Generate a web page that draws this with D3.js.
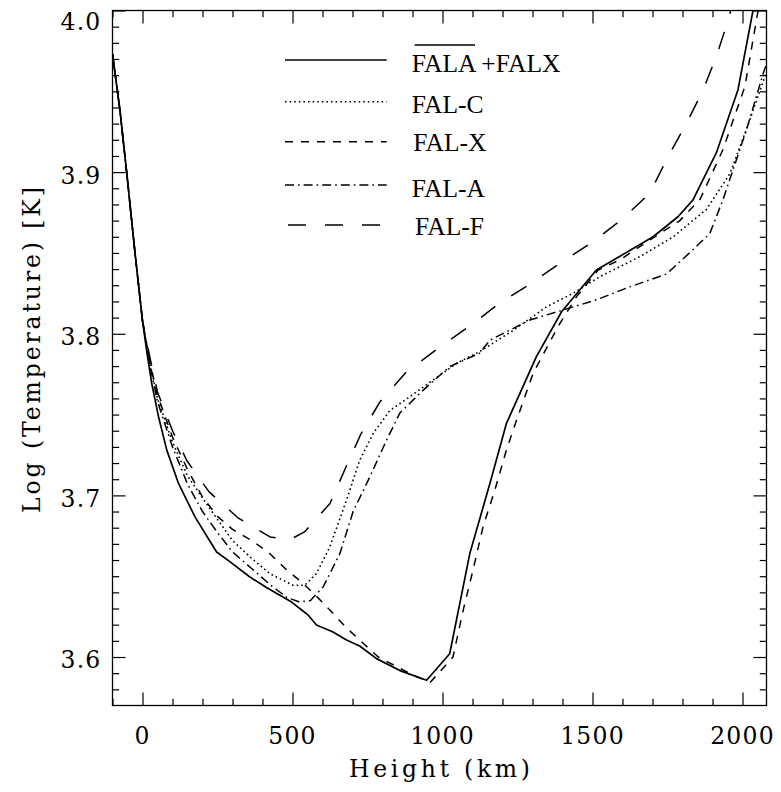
<!DOCTYPE html>
<html>
<head>
<meta charset="utf-8">
<script src="https://cdn.jsdelivr.net/npm/d3@7"></script>
<style>
  html, body { margin: 0; padding: 0; background: #fff; }
  svg { display: block; }
</style>
</head>
<body>
<svg id="chart" width="781" height="792"></svg>
<script>
// ---------------- data (height km, log T) ----------------
const falaFalx = [[-100,3.973],[-75,3.938],[-50,3.895],[-25,3.85],[0,3.808],[15,3.788],[31,3.769],[53,3.749],[81,3.728],[120,3.7074],[175,3.6867],[247,3.665],[291,3.659],[358,3.6495],[413,3.643],[497,3.634],[552,3.626],[580,3.6198],[635,3.6155],[680,3.6105],[724,3.6068],[780,3.599],[858,3.5916],[947,3.5856],[1024,3.602],[1091,3.664],[1158,3.7074],[1213,3.7445],[1313,3.7858],[1397,3.8136],[1513,3.8394],[1702,3.86],[1785,3.8724],[1835,3.8828],[1913,3.912],[1985,3.951],[2035,4.0],[2050,4.012]];
const falC = [[-100,3.973],[-75,3.938],[-50,3.895],[-25,3.85],[0,3.808],[25,3.782],[50,3.76],[100,3.733],[150,3.712],[220,3.693],[300,3.672],[358,3.662],[424,3.6516],[502,3.6444],[541,3.6444],[580,3.6516],[624,3.668],[680,3.697],[724,3.7218],[769,3.7383],[824,3.7524],[891,3.761],[958,3.770],[1047,3.7817],[1124,3.789],[1235,3.802],[1347,3.8167],[1435,3.825],[1524,3.8353],[1658,3.8477],[1769,3.860],[1880,3.877],[1958,3.899],[2020,3.93],[2080,3.962]];
const falX = [[-100,3.973],[-75,3.938],[-50,3.895],[-25,3.85],[0,3.808],[25,3.782],[50,3.762],[100,3.736],[150,3.716],[200,3.699],[250,3.687],[300,3.679],[369,3.6715],[424,3.664],[480,3.654],[530,3.6464],[582,3.6372],[630,3.628],[680,3.618],[730,3.6095],[786,3.6],[841,3.5947],[904,3.5885],[960,3.5845],[1035,3.600],[1069,3.629],[1102,3.654],[1135,3.6805],[1174,3.703],[1213,3.728],[1247,3.7466],[1302,3.7755],[1385,3.8044],[1447,3.823],[1519,3.8394],[1591,3.8457],[1691,3.858],[1791,3.870],[1858,3.883],[1935,3.914],[2008,3.953],[2052,4.0],[2065,4.01]];
const falA = [[-100,3.973],[-75,3.938],[-50,3.895],[-25,3.85],[0,3.808],[25,3.78],[50,3.758],[100,3.73],[150,3.707],[200,3.69],[250,3.677],[300,3.665],[358,3.6557],[424,3.645],[480,3.637],[524,3.634],[560,3.635],[602,3.6433],[658,3.664],[702,3.690],[758,3.7115],[813,3.734],[858,3.751],[935,3.765],[1024,3.7797],[1124,3.788],[1158,3.796],[1291,3.8085],[1402,3.8147],[1513,3.821],[1624,3.829],[1747,3.837],[1835,3.852],[1891,3.862],[1935,3.883],[2013,3.926],[2069,3.961],[2080,3.967]];
const falF = [[-100,3.973],[-75,3.938],[-50,3.895],[-25,3.85],[0,3.808],[25,3.785],[50,3.764],[100,3.74],[148,3.7214],[222,3.7022],[317,3.6863],[425,3.6743],[490,3.6725],[540,3.6774],[625,3.695],[675,3.7162],[728,3.738],[792,3.758],[878,3.776],[1000,3.793],[1100,3.806],[1183,3.818],[1285,3.830],[1391,3.8436],[1502,3.857],[1602,3.8714],[1691,3.887],[1752,3.9096],[1813,3.930],[1869,3.951],[1913,3.9716],[1952,3.994],[1965,4.003]];

const xTickValues = [0, 500, 1000, 1500, 2000];
const yTickValues = [3.6, 3.7, 3.8, 3.9, 4.0];
const legendLabels = ["FALA +FALX", "FAL-C", "FAL-X", "FAL-A", "FAL-F"];
const xTitle = "Height (km)";
const yTitle = "Log (Temperature) [K]";

// ---------------- setup ----------------
const svg = d3.select("#chart");
const L = 112.5, R = 766.5, T = 10.5, B = 705.5;
const x = d3.scaleLinear().domain([-100, 2080]).range([L, R]);
const y = d3.scaleLinear().domain([3.57, 4.0]).range([B, T]);

const series = [
  { data: falaFalx, dash: null, w: 1.7 },
  { data: falC, dash: "1.6,3", w: 1.6 },
  { data: falX, dash: "8,8", w: 1.5 },
  { data: falA, dash: "9,4,1.6,4", w: 1.5 },
  { data: falF, dash: "18,19", w: 1.5 }
];

svg.append("defs").append("clipPath").attr("id", "clip")
  .append("rect").attr("x", L).attr("y", T).attr("width", R - L).attr("height", B - T);

const line = d3.line().x(d => x(d[0])).y(d => y(d[1]));
const plot = svg.append("g").attr("clip-path", "url(#clip)");
series.forEach(s => {
  plot.append("path").datum(s.data)
    .attr("d", line)
    .attr("fill", "none")
    .attr("stroke", "#000")
    .attr("stroke-width", s.w)
    .attr("stroke-dasharray", s.dash)
    .attr("stroke-linejoin", "round");
});

// ---------------- axes ----------------
const xMinor = d3.range(-100, 2081, 100).filter(v => !xTickValues.includes(v));
const yMinor = d3.range(358, 400, 1).map(v => v / 100).filter(v => !yTickValues.some(t => Math.abs(t - v) < 1e-9));

function styleAxis(g) {
  g.select(".domain").remove();
  g.selectAll(".tick line").attr("stroke", "#000").attr("stroke-width", 1.2);
}
const major = 13, minor = 6.7;

// bottom
svg.append("g").attr("transform", `translate(0,${B})`)
  .call(d3.axisBottom(x).tickValues(xTickValues).tickSize(-major).tickFormat(""))
  .call(styleAxis);
svg.append("g").attr("transform", `translate(0,${B})`)
  .call(d3.axisBottom(x).tickValues(xMinor).tickSize(-minor).tickFormat(""))
  .call(styleAxis);
// top
svg.append("g").attr("transform", `translate(0,${T})`)
  .call(d3.axisTop(x).tickValues(xTickValues).tickSize(-major).tickFormat(""))
  .call(styleAxis);
svg.append("g").attr("transform", `translate(0,${T})`)
  .call(d3.axisTop(x).tickValues(xMinor).tickSize(-minor).tickFormat(""))
  .call(styleAxis);
// left
svg.append("g").attr("transform", `translate(${L},0)`)
  .call(d3.axisLeft(y).tickValues(yTickValues).tickSize(-major).tickFormat(""))
  .call(styleAxis);
svg.append("g").attr("transform", `translate(${L},0)`)
  .call(d3.axisLeft(y).tickValues(yMinor).tickSize(-minor).tickFormat(""))
  .call(styleAxis);
// right
svg.append("g").attr("transform", `translate(${R},0)`)
  .call(d3.axisRight(y).tickValues(yTickValues).tickSize(-major).tickFormat(""))
  .call(styleAxis);
svg.append("g").attr("transform", `translate(${R},0)`)
  .call(d3.axisRight(y).tickValues(yMinor).tickSize(-minor).tickFormat(""))
  .call(styleAxis);

// frame
svg.append("rect").attr("x", L).attr("y", T).attr("width", R - L).attr("height", B - T)
  .attr("fill", "none").attr("stroke", "#000").attr("stroke-width", 1.3);

// tick labels
const tickFont = "'DejaVu Serif', serif";
svg.append("g").selectAll("text").data(xTickValues).join("text")
  .attr("x", d => x(d))
  .attr("y", 744)
  .attr("text-anchor", "middle")
  .attr("font-family", tickFont)
  .attr("font-size", 23.5)
  .attr("letter-spacing", 1.2)
  .attr("fill", "#000")
  .text(d => d3.format("d")(d));

svg.append("g").selectAll("text").data(yTickValues).join("text")
  .attr("x", 101.5)
  .attr("y", d => Math.max(y(d) + 11.4, 30))
  .attr("text-anchor", "end")
  .attr("font-family", tickFont)
  .attr("font-size", 23.5)
  .attr("letter-spacing", 1.2)
  .attr("fill", "#000")
  .text(d => d3.format(".1f")(d));

// axis titles
svg.append("text")
  .attr("x", (L + R) / 2)
  .attr("y", 777)
  .attr("text-anchor", "middle")
  .attr("font-family", tickFont)
  .attr("font-size", 23.5)
  .attr("textLength", 181)
  .attr("lengthAdjust", "spacing")
  .text(xTitle);

svg.append("text")
  .attr("transform", `translate(40,350) rotate(-90)`)
  .attr("text-anchor", "middle")
  .attr("font-family", tickFont)
  .attr("font-size", 23.5)
  .attr("textLength", 326)
  .attr("lengthAdjust", "spacing")
  .text(yTitle);

// ---------------- legend ----------------
const legendLineY = [60, 101.7, 141.7, 185, 225];
const legendLineX0 = [285, 285, 285, 285, 288];
const legendTextX = [411.7, 411.7, 413.3, 411.7, 415];
const legendTextY = [71.7, 113.3, 150.7, 196.7, 235];
const lg = svg.append("g");
series.forEach((s, i) => {
  lg.append("line")
    .attr("x1", legendLineX0[i]).attr("x2", 386.7)
    .attr("y1", legendLineY[i]).attr("y2", legendLineY[i])
    .attr("stroke", "#000").attr("stroke-width", s.w)
    .attr("stroke-dasharray", s.dash);
  const t = lg.append("text")
    .attr("x", legendTextX[i]).attr("y", legendTextY[i])
    .attr("font-family", "'Liberation Serif', serif")
    .attr("font-size", 25.5)
    .attr("fill", "#000");
  if (i === 0) {
    const parts = legendLabels[0].split(" ");
    const ts = t.append("tspan").text(parts[0]);
    t.append("tspan").text(" " + parts[1]);
    const w = ts.node().getComputedTextLength();
    lg.append("line")
      .attr("x1", legendTextX[0] + 3).attr("x2", legendTextX[0] + w)
      .attr("y1", 45).attr("y2", 45)
      .attr("stroke", "#000").attr("stroke-width", 1.3);
  } else {
    t.text(legendLabels[i]);
  }
});
</script>
</body>
</html>
